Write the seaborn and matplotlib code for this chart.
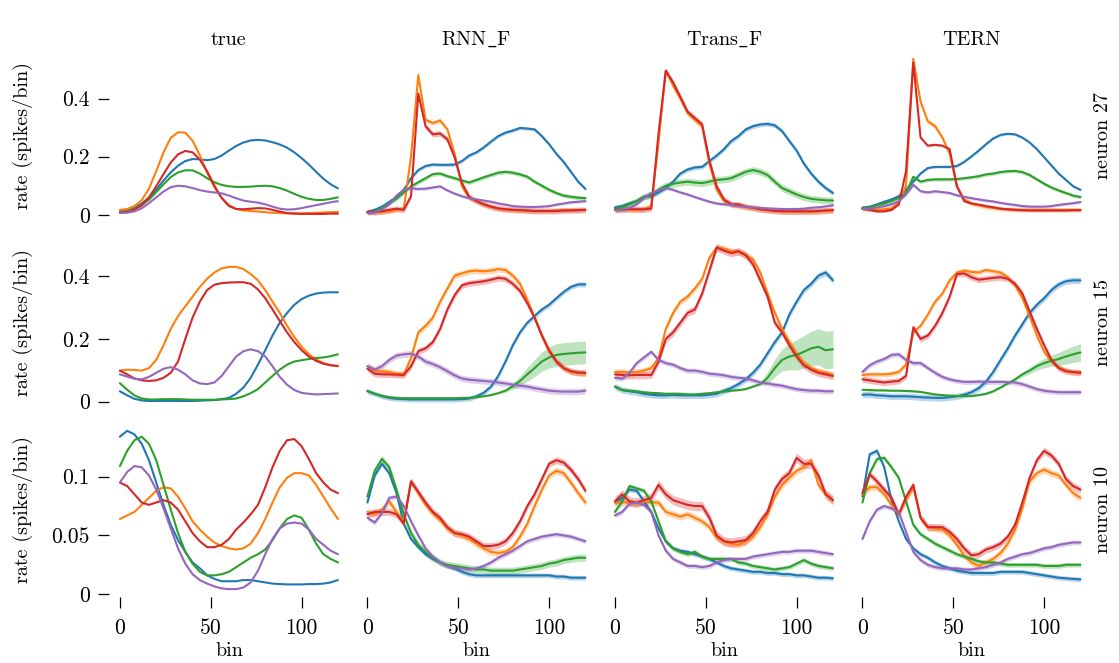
import numpy as np
import pandas as pd
import matplotlib
matplotlib.use("Agg")
import matplotlib.pyplot as plt
import seaborn as sns

# ---------------- data (rate in spikes/bin, sampled every 4 bins) ----------------
BINS = list(range(0, 121, 4))
MODELS = ["true", "RNN_F", "Trans_F", "TERN"]
NEURONS = ["neuron 27", "neuron 15", "neuron 10"]
SERIES = ["blue", "orange", "green", "red", "purple"]

# neuron 27
n27_true_blue = [.010,.013,.024,.039,.059,.086,.118,.146,.169,.185,.192,.191,.188,.192,.204,.221,.237,.249,.256,.258,.256,.250,.242,.231,.215,.195,.173,.148,.124,.105,.091]
n27_true_orange = [.017,.020,.030,.050,.090,.150,.215,.265,.284,.283,.255,.205,.145,.095,.058,.033,.020,.015,.013,.011,.009,.007,.006,.005,.005,.005,.006,.007,.008,.009,.010]
n27_true_green = [.010,.012,.020,.033,.052,.078,.105,.130,.146,.153,.153,.142,.126,.112,.103,.098,.096,.096,.097,.099,.100,.098,.092,.083,.072,.062,.055,.051,.051,.055,.060]
n27_true_red = [.008,.010,.018,.032,.060,.098,.140,.180,.208,.220,.215,.190,.150,.100,.058,.030,.020,.019,.021,.023,.022,.017,.011,.006,.004,.003,.003,.003,.003,.004,.004]
n27_true_purple = [.006,.007,.012,.022,.040,.060,.080,.095,.100,.098,.092,.085,.080,.077,.074,.066,.057,.049,.045,.042,.036,.028,.021,.018,.019,.023,.028,.033,.038,.043,.047]

n27_rnn_blue = [.010,.017,.028,.044,.062,.086,.126,.154,.168,.173,.172,.172,.173,.185,.204,.215,.232,.252,.271,.283,.290,.299,.297,.294,.271,.243,.210,.182,.148,.114,.089]
n27_rnn_orange = [.008,.008,.010,.012,.017,.021,.200,.481,.327,.316,.325,.294,.210,.098,.058,.047,.036,.028,.021,.018,.016,.015,.013,.013,.013,.013,.015,.015,.016,.016,.017]
n27_rnn_green = [.008,.012,.024,.039,.055,.077,.098,.112,.126,.140,.142,.133,.126,.118,.111,.120,.129,.137,.145,.148,.145,.139,.131,.114,.100,.086,.075,.066,.062,.059,.057]
n27_rnn_red = [.010,.010,.012,.017,.021,.017,.064,.417,.305,.277,.280,.260,.198,.109,.062,.047,.036,.028,.022,.019,.017,.016,.015,.013,.013,.013,.013,.015,.015,.016,.017]
n27_rnn_purple = [.006,.008,.019,.036,.066,.086,.092,.089,.090,.094,.098,.084,.073,.064,.057,.053,.049,.045,.039,.035,.030,.028,.027,.027,.028,.030,.035,.039,.043,.045,.047]

n27_trans_blue = [.025,.030,.039,.047,.062,.064,.077,.092,.114,.142,.156,.163,.165,.185,.204,.226,.254,.271,.294,.305,.311,.313,.308,.288,.254,.221,.176,.142,.114,.092,.075]
n27_trans_orange = [.019,.021,.019,.017,.019,.030,.250,.496,.445,.400,.350,.327,.305,.176,.086,.047,.036,.030,.027,.024,.019,.017,.015,.012,.011,.011,.011,.011,.012,.013,.015]
n27_trans_green = [.021,.025,.036,.047,.062,.070,.086,.100,.107,.111,.114,.111,.109,.114,.120,.122,.126,.137,.148,.154,.148,.137,.114,.092,.081,.070,.061,.055,.052,.050,.049]
n27_trans_red = [.017,.017,.019,.019,.019,.021,.280,.496,.456,.406,.355,.333,.311,.187,.098,.053,.036,.036,.028,.024,.019,.016,.013,.012,.012,.012,.012,.012,.013,.015,.016]
n27_trans_purple = [.016,.017,.024,.036,.058,.075,.084,.092,.086,.077,.070,.061,.053,.045,.039,.036,.034,.030,.028,.025,.024,.022,.021,.020,.020,.020,.021,.024,.026,.029,.033]

n27_tern_blue = [.025,.028,.036,.045,.053,.064,.086,.114,.142,.161,.165,.165,.165,.168,.182,.201,.221,.243,.263,.275,.279,.277,.266,.249,.226,.198,.170,.142,.120,.098,.086]
n27_tern_orange = [.021,.019,.017,.019,.022,.041,.100,.537,.389,.322,.305,.266,.210,.098,.053,.039,.033,.027,.024,.021,.019,.018,.017,.017,.017,.017,.017,.017,.017,.017,.017]
n27_tern_green = [.021,.026,.033,.039,.047,.058,.075,.131,.114,.120,.122,.122,.122,.123,.126,.129,.133,.139,.142,.147,.150,.151,.147,.137,.122,.107,.094,.084,.075,.066,.061]
n27_tern_red = [.021,.017,.012,.012,.017,.036,.150,.524,.266,.238,.241,.238,.226,.098,.047,.039,.035,.030,.026,.021,.019,.017,.016,.015,.015,.015,.015,.015,.015,.016,.016]
n27_tern_purple = [.021,.021,.025,.030,.036,.047,.070,.103,.081,.077,.081,.078,.075,.067,.062,.057,.053,.049,.046,.041,.037,.034,.030,.028,.028,.028,.030,.034,.037,.040,.044]

# neuron 15
n15_true_blue = [.033,.020,.009,.004,.002,.002,.002,.002,.002,.002,.002,.003,.004,.005,.008,.012,.025,.045,.076,.118,.164,.211,.252,.283,.309,.327,.338,.345,.348,.349,.349]
n15_true_orange = [.099,.102,.101,.099,.107,.133,.180,.232,.273,.304,.335,.366,.392,.412,.425,.430,.430,.423,.407,.387,.356,.319,.283,.242,.206,.175,.151,.135,.123,.116,.113]
n15_true_green = [.059,.038,.020,.010,.007,.007,.008,.008,.008,.007,.006,.006,.006,.006,.007,.008,.010,.017,.027,.040,.061,.082,.102,.118,.128,.132,.136,.139,.141,.145,.151]
n15_true_red = [.099,.087,.074,.068,.066,.068,.076,.092,.128,.200,.268,.319,.356,.373,.378,.380,.381,.381,.376,.358,.330,.294,.257,.221,.190,.164,.144,.130,.121,.116,.114]
n15_true_purple = [.087,.080,.073,.071,.079,.092,.105,.110,.102,.087,.068,.058,.056,.061,.082,.113,.144,.161,.167,.161,.144,.113,.079,.054,.037,.028,.025,.023,.024,.025,.026]

n15_rnn_blue = [.033,.025,.017,.012,.009,.008,.007,.007,.007,.007,.007,.007,.007,.008,.010,.017,.028,.048,.082,.128,.180,.221,.252,.273,.294,.309,.330,.350,.366,.374,.374]
n15_rnn_orange = [.113,.099,.097,.095,.089,.087,.139,.221,.242,.268,.319,.361,.402,.409,.416,.418,.416,.418,.423,.420,.402,.376,.325,.268,.211,.159,.128,.107,.095,.091,.090]
n15_rnn_green = [.035,.025,.019,.014,.012,.011,.011,.011,.011,.011,.011,.011,.011,.012,.012,.014,.017,.021,.027,.035,.049,.066,.087,.107,.128,.141,.149,.152,.154,.156,.157]
n15_rnn_red = [.105,.089,.087,.087,.086,.085,.113,.161,.170,.190,.232,.294,.340,.371,.378,.381,.384,.389,.395,.392,.376,.353,.314,.268,.211,.164,.128,.107,.097,.093,.092]
n15_rnn_purple = [.113,.102,.113,.133,.147,.151,.153,.144,.128,.120,.110,.097,.084,.074,.070,.068,.066,.064,.061,.058,.054,.051,.048,.043,.039,.035,.033,.032,.032,.032,.035]

n15_trans_blue = [.048,.037,.033,.030,.025,.022,.020,.020,.021,.020,.020,.020,.020,.022,.025,.035,.043,.056,.071,.092,.118,.154,.190,.221,.278,.319,.356,.376,.402,.412,.387]
n15_trans_orange = [.095,.095,.093,.095,.099,.107,.139,.232,.283,.319,.335,.361,.392,.459,.492,.488,.480,.478,.469,.454,.412,.345,.283,.232,.190,.154,.123,.107,.097,.092,.085]
n15_trans_green = [.048,.037,.035,.033,.030,.028,.027,.025,.025,.025,.023,.023,.025,.027,.030,.032,.035,.037,.040,.048,.056,.076,.107,.133,.144,.149,.159,.170,.175,.164,.167]
n15_trans_red = [.087,.085,.084,.085,.085,.085,.128,.200,.221,.252,.283,.294,.345,.418,.492,.482,.474,.480,.467,.438,.387,.335,.252,.221,.180,.144,.116,.102,.092,.087,.082]
n15_trans_purple = [.076,.073,.092,.123,.141,.159,.133,.123,.118,.107,.099,.099,.095,.089,.087,.084,.079,.076,.074,.068,.061,.058,.054,.051,.045,.040,.037,.035,.035,.033,.033]

n15_tern_blue = [.022,.023,.020,.019,.017,.017,.017,.016,.014,.013,.012,.012,.014,.017,.022,.030,.043,.064,.095,.133,.170,.211,.247,.283,.309,.330,.356,.374,.384,.387,.387]
n15_tern_orange = [.085,.087,.087,.087,.089,.095,.118,.221,.242,.278,.319,.345,.387,.412,.418,.414,.412,.420,.416,.412,.397,.371,.330,.273,.211,.159,.128,.110,.099,.095,.094]
n15_tern_green = [.038,.037,.036,.036,.035,.035,.034,.033,.031,.027,.023,.021,.019,.018,.018,.018,.021,.025,.033,.045,.058,.071,.087,.099,.113,.123,.130,.136,.144,.151,.157]
n15_tern_red = [.071,.068,.064,.061,.064,.066,.082,.237,.200,.211,.242,.283,.335,.407,.409,.397,.389,.392,.395,.397,.392,.376,.345,.288,.232,.180,.133,.107,.097,.094,.092]
n15_tern_purple = [.095,.116,.128,.136,.149,.151,.133,.123,.123,.107,.092,.079,.071,.066,.063,.063,.064,.063,.063,.063,.062,.061,.056,.048,.040,.035,.032,.030,.030,.030,.030]

# neuron 10
n10_true_blue = [.134,.139,.136,.128,.114,.095,.076,.059,.046,.036,.027,.022,.016,.013,.011,.011,.011,.012,.012,.011,.010,.009,.0086,.0083,.0083,.0083,.0086,.0086,.009,.010,.012]
n10_true_orange = [.064,.067,.070,.076,.082,.088,.091,.090,.083,.073,.062,.055,.049,.044,.041,.039,.038,.039,.043,.052,.064,.078,.091,.099,.103,.103,.101,.093,.083,.073,.064]
n10_true_green = [.109,.122,.131,.134,.128,.114,.093,.072,.052,.036,.026,.019,.016,.016,.017,.019,.023,.027,.031,.034,.038,.046,.056,.064,.067,.065,.055,.043,.034,.030,.027]
n10_true_red = [.095,.092,.085,.078,.076,.078,.080,.078,.072,.062,.052,.045,.040,.040,.042,.047,.055,.061,.068,.076,.091,.108,.122,.131,.132,.126,.115,.103,.095,.089,.086]
n10_true_purple = [.095,.104,.109,.108,.101,.089,.073,.056,.039,.026,.017,.012,.009,.0066,.0049,.0043,.0043,.0057,.010,.020,.034,.047,.056,.060,.061,.060,.055,.047,.042,.037,.034]

n10_rnn_blue = [.078,.101,.111,.103,.086,.060,.047,.040,.034,.030,.027,.024,.022,.019,.017,.016,.016,.016,.016,.016,.016,.016,.016,.016,.016,.016,.015,.015,.014,.014,.014]
n10_rnn_orange = [.070,.068,.072,.079,.070,.062,.096,.086,.076,.069,.063,.056,.052,.050,.047,.043,.039,.036,.035,.036,.040,.049,.060,.075,.089,.101,.105,.103,.095,.086,.078]
n10_rnn_green = [.083,.105,.115,.108,.089,.068,.052,.042,.036,.031,.027,.025,.024,.023,.022,.021,.021,.020,.020,.020,.020,.021,.022,.023,.024,.026,.027,.029,.030,.031,.031]
n10_rnn_red = [.068,.070,.070,.070,.068,.060,.096,.087,.078,.070,.065,.057,.052,.051,.049,.045,.041,.041,.042,.045,.052,.062,.075,.085,.098,.111,.114,.112,.106,.098,.088]
n10_rnn_purple = [.065,.061,.069,.082,.083,.075,.062,.050,.039,.032,.027,.024,.022,.022,.021,.022,.024,.027,.031,.034,.037,.041,.045,.047,.049,.050,.051,.050,.049,.047,.045]

n10_trans_blue = [.078,.082,.089,.088,.079,.070,.056,.045,.039,.037,.036,.034,.032,.030,.027,.024,.022,.021,.020,.019,.019,.018,.018,.017,.017,.016,.016,.015,.014,.014,.0135]
n10_trans_orange = [.078,.078,.078,.077,.079,.078,.078,.070,.068,.066,.068,.065,.062,.057,.048,.045,.043,.042,.045,.049,.057,.068,.083,.093,.099,.105,.108,.114,.093,.085,.080]
n10_trans_green = [.070,.079,.092,.090,.088,.079,.062,.045,.039,.036,.034,.036,.032,.030,.030,.030,.030,.027,.026,.024,.023,.022,.021,.022,.023,.026,.029,.026,.024,.023,.022]
n10_trans_red = [.079,.085,.079,.078,.080,.082,.093,.085,.080,.078,.076,.075,.075,.065,.050,.045,.044,.045,.046,.052,.062,.070,.089,.098,.103,.116,.111,.111,.101,.085,.080]
n10_trans_purple = [.067,.070,.077,.078,.076,.070,.050,.037,.030,.027,.024,.024,.023,.024,.027,.029,.030,.030,.030,.032,.033,.034,.035,.036,.036,.037,.037,.037,.036,.035,.034]

n10_tern_blue = [.083,.119,.122,.108,.080,.062,.047,.039,.034,.031,.027,.024,.022,.020,.019,.018,.018,.018,.018,.019,.019,.019,.019,.018,.017,.016,.015,.014,.0135,.013,.0126]
n10_tern_orange = [.085,.091,.091,.085,.076,.068,.080,.091,.065,.057,.056,.055,.050,.042,.033,.027,.024,.027,.030,.035,.043,.055,.073,.096,.103,.106,.103,.101,.093,.086,.082]
n10_tern_green = [.078,.103,.115,.116,.108,.099,.079,.059,.051,.047,.043,.040,.037,.034,.032,.030,.028,.027,.027,.026,.025,.025,.025,.025,.025,.024,.024,.024,.025,.025,.025]
n10_tern_red = [.086,.102,.096,.089,.082,.068,.083,.093,.065,.057,.057,.057,.053,.047,.039,.033,.034,.038,.040,.043,.049,.059,.078,.099,.114,.122,.118,.111,.098,.092,.089]
n10_tern_purple = [.047,.062,.072,.075,.073,.070,.053,.036,.029,.025,.023,.022,.022,.022,.021,.021,.022,.023,.025,.027,.030,.032,.034,.035,.037,.039,.040,.042,.043,.044,.044]

# half-width of the shaded uncertainty bands (per series: blue, orange, green, red, purple)
band_n27_rnn = [.006, .008, .007, .010, .005]
band_n27_trans = [.008, .010, .012, .010, .005]
band_n27_tern = [.004, .008, .006, .004, .005]
band_n15_rnn_green = [.002]*19 + [.005,.010,.016,.022,.027,.031,.034,.036,.036,.036,.036,.036]
band_n15_trans_green = [.003]*21 + [.020,.028,.035,.042,.048,.052,.055,.058,.060,.060]
band_n15_tern_green = [.003]*21 + [.006,.008,.010,.012,.015,.018,.021,.024,.026,.028]
band_n15_rnn = [.008, .010, band_n15_rnn_green, .010, .010]
band_n15_trans = [.010, .010, band_n15_trans_green, .012, .008]
band_n15_tern = [.010, .008, band_n15_tern_green, .010, .008]
band_n10_rnn = [.002, .003, .003, .003, .002]
band_n10_trans = [.002, .003, .002, .004, .002]
band_n10_tern = [.002, .003, .002, .003, .002]
band_none = [0, 0, 0, 0, 0]

YTICKS = [[0, 0.2, 0.4], [0, 0.2, 0.4], [0, 0.05, 0.1]]
YTICKLABELS = [["0", "0.2", "0.4"], ["0", "0.2", "0.4"], ["0", "0.05", "0.1"]]
XTICKS = [0, 50, 100]

PANELS = [
    [(n27_true_blue, n27_true_orange, n27_true_green, n27_true_red, n27_true_purple), band_none],
    [(n27_rnn_blue, n27_rnn_orange, n27_rnn_green, n27_rnn_red, n27_rnn_purple), band_n27_rnn],
    [(n27_trans_blue, n27_trans_orange, n27_trans_green, n27_trans_red, n27_trans_purple), band_n27_trans],
    [(n27_tern_blue, n27_tern_orange, n27_tern_green, n27_tern_red, n27_tern_purple), band_n27_tern],
    [(n15_true_blue, n15_true_orange, n15_true_green, n15_true_red, n15_true_purple), band_none],
    [(n15_rnn_blue, n15_rnn_orange, n15_rnn_green, n15_rnn_red, n15_rnn_purple), band_n15_rnn],
    [(n15_trans_blue, n15_trans_orange, n15_trans_green, n15_trans_red, n15_trans_purple), band_n15_trans],
    [(n15_tern_blue, n15_tern_orange, n15_tern_green, n15_tern_red, n15_tern_purple), band_n15_tern],
    [(n10_true_blue, n10_true_orange, n10_true_green, n10_true_red, n10_true_purple), band_none],
    [(n10_rnn_blue, n10_rnn_orange, n10_rnn_green, n10_rnn_red, n10_rnn_purple), band_n10_rnn],
    [(n10_trans_blue, n10_trans_orange, n10_trans_green, n10_trans_red, n10_trans_purple), band_n10_trans],
    [(n10_tern_blue, n10_tern_orange, n10_tern_green, n10_tern_red, n10_tern_purple), band_n10_tern],
]

# ---------------- style ----------------
sns.set_theme(style="ticks")
plt.rcParams.update({
    "font.family": ["cmr10", "DejaVu Serif"],
    "mathtext.fontset": "cm",
    "axes.formatter.use_mathtext": True,
    "axes.unicode_minus": False,
    "font.size": 14.5,
    "axes.labelsize": 14.5,
    "axes.titlesize": 14.5,
    "xtick.labelsize": 15.5,
    "ytick.labelsize": 15.5,
    "text.color": "black",
    "axes.labelcolor": "black",
    "xtick.color": "black",
    "ytick.color": "black",
})
PALETTE = dict(zip(SERIES, sns.color_palette("tab10", 5)))
TITLES = ["true", r"RNN$\_$F", r"Trans$\_$F", "TERN"]

fig, axes = plt.subplots(3, 4, figsize=(11.19, 6.63), dpi=100, sharex=True, sharey="row")
fig.subplots_adjust(left=0.0974, right=0.9753, top=0.9267, bottom=0.0995,
                    wspace=0.032, hspace=0.075)

bins = np.array(BINS)
for idx, (series_vals, bands) in enumerate(PANELS):
    r, c = divmod(idx, 4)
    ax = axes[r, c]
    frames = []
    for name, vals in zip(SERIES, series_vals):
        frames.append(pd.DataFrame({"bin": BINS, "rate": vals, "series": name}))
    df = pd.concat(frames, ignore_index=True)
    for name, vals, bw in zip(SERIES, series_vals, bands):
        bw = np.broadcast_to(np.asarray(bw, dtype=float), bins.shape)
        if np.any(bw > 0):
            v = np.asarray(vals)
            ax.fill_between(bins, v - bw, v + bw, color=PALETTE[name], alpha=0.3, lw=0)
    sns.lineplot(data=df, x="bin", y="rate", hue="series", hue_order=SERIES,
                 palette=PALETTE, ax=ax, legend=False, linewidth=1.5)
    sns.despine(ax=ax, left=True, bottom=True)
    ax.set_xlabel("")
    ax.set_ylabel("")
    ax.tick_params(axis="both", direction="out", length=8, width=0.9)
    ax.tick_params(axis="y", pad=5.8)
    ax.tick_params(axis="x", pad=7.5)
    if c == 0:
        ax.set_yticks(YTICKS[r])
        ax.set_yticklabels(YTICKLABELS[r])
        ax.set_ylabel("rate (spikes/bin)", labelpad=13)
    else:
        ax.tick_params(axis="y", left=False, labelleft=False)
    if r == 2:
        ax.set_xticks(XTICKS)
        ax.set_xticklabels([str(t) for t in XTICKS])
        ax.set_xlabel("bin", labelpad=3)
    else:
        ax.tick_params(axis="x", bottom=False, labelbottom=False)
    if r == 0:
        ax.set_title(TITLES[c], pad=1.5)
    if c == 3:
        ax.text(1.05, 0.5, NEURONS[r], rotation=90, transform=ax.transAxes,
                ha="center", va="center", fontsize=14.5)

fig.align_ylabels(axes[:, 0])
fig.savefig("out.png", dpi=100)
